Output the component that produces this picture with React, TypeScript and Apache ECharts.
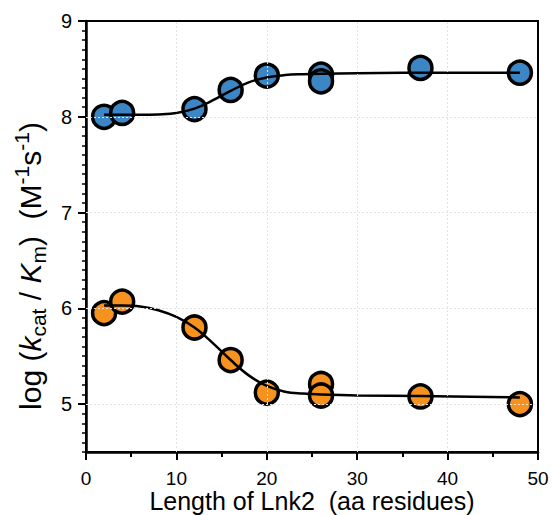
import React, { useEffect, useRef } from "react";
import * as echarts from "echarts";

const blueX = [2, 4, 12, 16, 20, 26, 26, 37, 48];
const blueY = [8.0, 8.04, 8.08, 8.28, 8.43, 8.44, 8.37, 8.51, 8.46];
const orangeX = [2, 4, 12, 16, 20, 26, 26, 37, 48];
const orangeY = [5.95, 6.07, 5.8, 5.46, 5.12, 5.21, 5.09, 5.08, 5.0];

const blueFitX = [2, 4, 6, 8, 10, 12, 14, 16, 18, 20, 22, 24, 26, 30, 40, 48];
const blueFitY = [8.02, 8.02, 8.02, 8.025, 8.04, 8.085, 8.17, 8.27, 8.36, 8.41, 8.435, 8.445, 8.45, 8.455, 8.46, 8.46];
const orangeFitX = [2, 4, 6, 8, 10, 12, 14, 16, 18, 20, 22, 24, 26, 30, 37, 48];
const orangeFitY = [6.03, 6.03, 6.02, 5.98, 5.91, 5.8, 5.64, 5.46, 5.3, 5.19, 5.13, 5.11, 5.1, 5.09, 5.085, 5.07];

const yLabels = [5, 6, 7, 8, 9];
const yGrid = [5, 6, 7, 8];
const xGrid = [10, 20, 30, 40];

const zip = (a: number[], b: number[]) => a.map((v, i) => [v, b[i]]);

const FONT = "Liberation Sans";

export default function App() {
  const ref = useRef<HTMLDivElement>(null);
  useEffect(() => {
    const chart = echarts.init(ref.current!, null, { renderer: "svg" });
    const gridLine = { color: "#e2e2e2", type: [2, 2] as any, width: 1 };
    chart.setOption({
      animation: false,
      backgroundColor: "#fff",
      grid: {
        left: 86,
        right: 15,
        top: 21,
        bottom: 63,
        show: true,
        borderColor: "#000",
        borderWidth: 2,
        backgroundColor: "transparent",
        containLabel: false,
        outerBoundsMode: "none",
      },
      xAxis: {
        type: "value",
        min: 0,
        max: 50,
        interval: 10,
        name: "Length of Lnk2  (aa residues)",
        nameLocation: "middle",
        nameGap: 36,
        nameMoveOverlap: false,
        nameTextStyle: { fontFamily: FONT, fontSize: 25, lineHeight: 25, color: "#000" },
        axisLine: { show: true, lineStyle: { color: "#000", width: 2.5 } },
        axisTick: { show: true, length: 8, lineStyle: { color: "#000", width: 2 } },
        minorTick: { show: true, splitNumber: 2, length: 5, lineStyle: { color: "#000", width: 2 } },
        axisLabel: { fontFamily: FONT, fontSize: 19, lineHeight: 15, color: "#000", margin: 19 },
        splitLine: { show: false },
      },
      yAxis: [
        {
          type: "value",
          min: 4.5,
          max: 9,
          interval: 0.1,
          axisLine: { show: true, lineStyle: { color: "#000", width: 2.5 } },
          axisTick: { show: true, length: 4, lineStyle: { color: "#000", width: 1.5 } },
          axisLabel: { show: false },
          splitLine: { show: false },
        },
        {
          type: "value",
          min: 4.5,
          max: 9,
          position: "left",
          axisLine: { show: false },
          axisTick: { show: true, length: 8, customValues: yLabels, lineStyle: { color: "#000", width: 2 } },
          axisLabel: { show: true, customValues: yLabels, fontFamily: FONT, fontSize: 20, color: "#000", margin: 14 },
          splitLine: { show: false },
        },
      ],
      graphic: [
        {
          type: "text",
          x: 30,
          y: 266,
          rotation: Math.PI / 2,
          style: {
            text: "{n|log (}{i|k}{s|cat}{n| / }{i|K}{s|m}{n|)  (M}{p|-1}{n|s}{p|-1}{n|)}",
            align: "center",
            verticalAlign: "middle",
            fill: "#000",
            rich: {
              n: { fontFamily: FONT, fontSize: 30, lineHeight: 38, verticalAlign: "middle" },
              i: { fontFamily: FONT, fontSize: 30, fontStyle: "italic", lineHeight: 38, verticalAlign: "middle" },
              s: { fontFamily: FONT, fontSize: 21, lineHeight: 38, verticalAlign: "bottom" },
              p: { fontFamily: FONT, fontSize: 21, lineHeight: 38, verticalAlign: "top" },
            },
          },
        },
      ],
      series: [
        {
          type: "line",
          data: [],
          markLine: {
            silent: true,
            symbol: "none",
            label: { show: false },
            lineStyle: gridLine,
            data: [...yGrid.map((v) => ({ yAxis: v })), ...xGrid.map((v) => ({ xAxis: v }))],
          },
          z: 1,
        },
        {
          type: "scatter",
          data: zip(blueX, blueY),
          symbolSize: 23,
          itemStyle: { color: "#3d86c6", borderColor: "#000", borderWidth: 3.5, opacity: 1 },
          z: 2,
        },
        {
          type: "scatter",
          data: zip(orangeX, orangeY),
          symbolSize: 23,
          itemStyle: { color: "#f7921e", borderColor: "#000", borderWidth: 3.5, opacity: 1 },
          z: 2,
        },
        {
          type: "line",
          data: zip(blueFitX, blueFitY),
          smooth: 0.4,
          showSymbol: false,
          lineStyle: { color: "#000", width: 2.5 },
          z: 3,
        },
        {
          type: "line",
          data: zip(orangeFitX, orangeFitY),
          smooth: 0.4,
          showSymbol: false,
          lineStyle: { color: "#000", width: 2.5 },
          z: 3,
        },
      ],
    });
    return () => chart.dispose();
  }, []);
  return <div ref={ref} style={{ width: 553, height: 515, position: "absolute", left: 0, top: 0 }} />;
}
